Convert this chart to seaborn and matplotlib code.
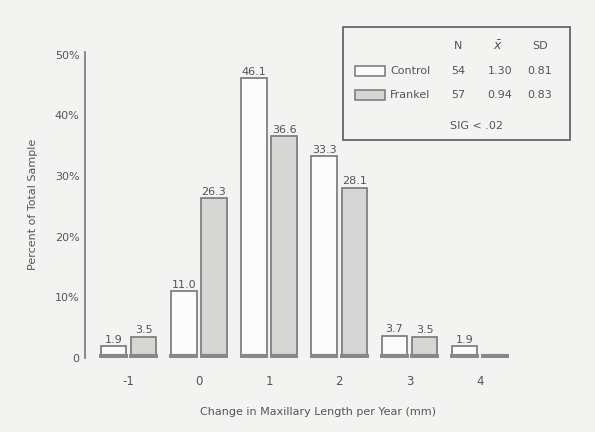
import pandas as pd
import seaborn as sns
import matplotlib.pyplot as plt
from matplotlib.patches import Rectangle

# change in maxillary length per year (mm)
changes = ["-1", "0", "1", "2", "3", "4"]
control = [1.9, 11.0, 46.1, 33.3, 3.7, 1.9]
frankel = [3.5, 26.3, 36.6, 28.1, 3.5, 0.3]
frankel_labels = ["3.5", "26.3", "36.6", "28.1", "3.5", ""]
control_labels = ["1.9", "11.0", "46.1", "33.3", "3.7", "1.9"]

# summary table in the legend box
groups = ["Control", "Frankel"]
n_vals = ["54", "57"]
mean_vals = ["1.30", "0.94"]
sd_vals = ["0.81", "0.83"]
sig_text = "SIG < .02"

df = pd.DataFrame({
    "change": changes * 2,
    "pct": control + frankel,
    "group": ["Control"] * len(changes) + ["Frankel"] * len(changes),
})

sns.set_style("white")
plt.rcParams["font.family"] = ["DejaVu Sans"]
bg = "#f3f3f1"
ink = "#555555"

fig = plt.figure(figsize=(5.95, 4.32), dpi=100, facecolor=bg)
ax = fig.add_axes([85 / 595, 74 / 432, 465 / 595, 0.709])
ax.set_facecolor(bg)

sns.barplot(data=df, x="change", y="pct", hue="group", order=changes,
            palette={"Control": "#fbfbfb", "Frankel": "#d6d6d4"},
            width=0.86, gap=0.15, edgecolor="#808080", linewidth=1.3,
            legend=False, ax=ax)

for cont, labels in zip(ax.containers, [control_labels, frankel_labels]):
    ax.bar_label(cont, labels=labels, padding=1, fontsize=8, color=ink)
    # thick base under each bar, as in the printed figure
    for p in cont.patches:
        ax.hlines(0.35, p.get_x() - 0.02, p.get_x() + p.get_width() + 0.02,
                  color="#888888", linewidth=3)

ax.set_xlim(-0.62, 6.0)
ax.set_ylim(0, 50.5)
ax.set_yticks([0, 10, 20, 30, 40, 50])
ax.set_yticklabels(["0", "10%", "20%", "30%", "40%", "50%"])
ax.tick_params(axis="y", direction="out", length=3, width=1, color="#777777",
               labelsize=8, labelcolor=ink, pad=1)
ax.tick_params(axis="x", length=0, labelsize=8.5, labelcolor=ink, pad=12)

for side in ["top", "right", "bottom"]:
    ax.spines[side].set_visible(False)
ax.spines["left"].set_color("#777777")
ax.spines["left"].set_linewidth(1.2)

ax.set_xlabel("Change in Maxillary Length per Year (mm)", fontsize=8,
              color=ink, labelpad=14)
ax.set_ylabel("Percent of Total Sample", fontsize=8, color=ink, labelpad=12)

# legend / statistics box
box = Rectangle((343 / 595, 1 - 140 / 432), 227 / 595, 113 / 432,
                transform=fig.transFigure, fill=False, edgecolor="#666666",
                linewidth=1.3)
fig.patches.append(box)

def fx(px):
    return px / 595

def fy(py):
    return 1 - py / 432

fs = 8
fig.text(fx(458), fy(46), "N", fontsize=fs, color=ink, ha="center", va="center")
fig.text(fx(498), fy(46), r"$\bar{x}$", fontsize=fs + 1, color=ink, ha="center", va="center")
fig.text(fx(540), fy(46), "SD", fontsize=fs, color=ink, ha="center", va="center")

fills = ["#fbfbfb", "#d6d6d4"]
for i, g in enumerate(groups):
    y = 71 + i * 24
    sw = Rectangle((fx(355), fy(y + 5)), 30 / 595, 10 / 432,
                   transform=fig.transFigure, facecolor=fills[i],
                   edgecolor="#777777", linewidth=1.1)
    fig.patches.append(sw)
    fig.text(fx(390), fy(y), g, fontsize=fs, color=ink, ha="left", va="center")
    fig.text(fx(458), fy(y), n_vals[i], fontsize=fs, color=ink, ha="center", va="center")
    fig.text(fx(500), fy(y), mean_vals[i], fontsize=fs, color=ink, ha="center", va="center")
    fig.text(fx(540), fy(y), sd_vals[i], fontsize=fs, color=ink, ha="center", va="center")

fig.text(fx(450), fy(126), sig_text, fontsize=fs, color=ink, ha="left", va="center")

fig.savefig("out.png", dpi=100, facecolor=bg)
